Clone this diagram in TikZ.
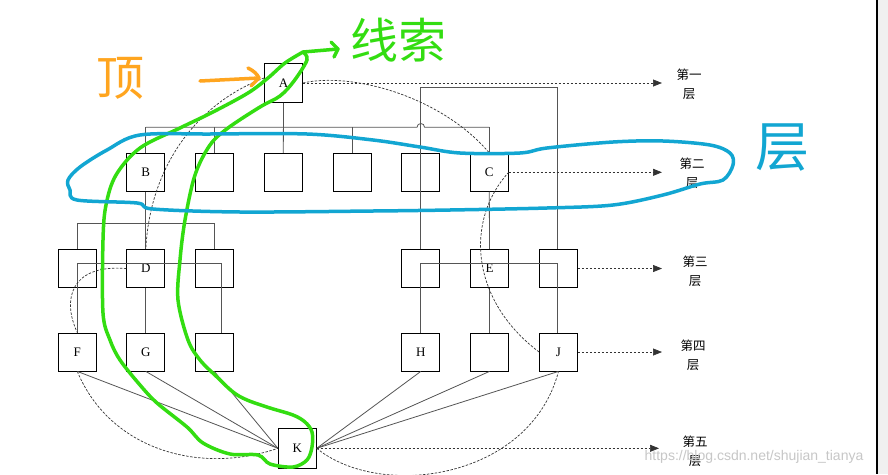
\documentclass[tikz,border=0pt]{standalone}
\usepackage{fontspec}
\setmainfont{Liberation Serif}
\newfontfamily\cjk{Noto Sans CJK SC}
\newfontfamily\wmfont{Liberation Sans}
\usetikzlibrary{arrows.meta}
\definecolor{hgreen}{HTML}{33DD11}
\definecolor{horange}{HTML}{FFA51F}
\definecolor{hblue}{HTML}{12A6D2}
\definecolor{conn}{HTML}{555555}
\definecolor{edgegray}{HTML}{F0F0F0}
\begin{document}
\begin{tikzpicture}[x=1pt,y=-1pt,
  box/.style={draw=black, line width=0.8pt, minimum width=38pt, minimum height=38pt, inner sep=0pt, font=\fontsize{13}{15}\selectfont},
  wire/.style={draw=conn, line width=0.8pt},
  dsh/.style={draw=black!80, line width=0.7pt, dash pattern=on 2.5pt off 1.5pt},
  layarrow/.style={dsh, -{Triangle[length=9pt,width=7pt]}},
  laylabel/.style={font=\cjk\fontsize{12.5}{19}\selectfont, align=center, inner sep=0pt},
  hand/.style={line width=3.5pt, line cap=round, line join=round},
  handtext/.style={font=\cjk\fontsize{48}{48}\selectfont, inner sep=0pt},
]
\useasboundingbox (0,0) rectangle (888,474);
\fill[white] (0,0) rectangle (888,474);
\fill[edgegray] (877,0) rectangle (888,474);
\draw[black, line width=1.4pt] (877,0) -- (877,474);

% boxes
\node[box, minimum height=39pt] (A) at (283.5,83) {A};
\node[box] (B)  at (145.8,172.3) {B};
\node[box] (n2) at (214.3,172.3) {};
\node[box] (n3) at (283.3,172.3) {};
\node[box] (n4) at (352.3,172.3) {};
\node[box] (n5) at (420.8,172.3) {};
\node[box] (C)  at (489.3,172.3) {C};
\node[box] (L3a) at (77.3,268.5) {};
\node[box] (D)   at (145.8,268.5) {D};
\node[box] (L3c) at (214.3,268.5) {};
\node[box] (L3d) at (420.8,268.5) {};
\node[box] (E)   at (489.5,268.5) {E};
\node[box] (L3f) at (558.5,268.5) {};
\node[box] (F)   at (77.3,352) {F};
\node[box] (G)   at (145.8,352) {G};
\node[box] (L4c) at (214.3,352) {};
\node[box] (H)   at (420.8,352) {H};
\node[box] (L4e) at (489.5,352) {};
\node[box] (J)   at (558.5,352) {J};
\node[box, minimum height=40pt] (K) at (297.3,448.3) {K};

% solid connectors
\coordinate (bus2) at (0,127.3);
\coordinate (bus3) at (0,223.3);
\coordinate (inner) at (0,263.7);
\coordinate (tl) at (420.8,87);
\coordinate (tr) at (557.5,87);
\draw[wire] (A.south) -- (n3.north);
\draw[wire] (B.north |- bus2) -- (417,127.3) .. controls (417,122.3) and (424.6,122.3) .. (424.6,127.3) -- (C.north |- bus2);
\draw[wire] (B.north) -- (B.north |- bus2);
\draw[wire] (n2.north) -- (n2.north |- bus2);
\draw[wire] (n4.north) -- (n4.north |- bus2);
\draw[wire] (C.north) -- (C.north |- bus2);
\draw[wire] (L3d.north) -- (tl) -- (tr) -- (tr |- L3f.north);
\draw[wire] (C.south) -- (E.north);
\draw[wire] (E.south) -- (L4e.north);
\draw[wire] (H.north) -- (H.north |- inner) -- ([xshift=-1pt]J.north |- inner) -- ([xshift=-1pt]J.north);
\draw[wire] (L3a.north) -- (L3a.north |- bus3) -- (L3c.north |- bus3) -- (L3c.north);
\draw[wire] (B.south) -- (D.north);
\draw[wire] (D.south) -- (G.north);
\draw[wire] (F.north) -- (F.north |- inner) -- ([xshift=6.7pt]L4c.north |- inner) -- ([xshift=6.7pt]L4c.north);
\foreach \n in {F,G,L4c} \draw[wire] (\n.south) -- (K.west);
\foreach \n in {H,L4e,J} \draw[wire] (\n.south) -- (K.east);

% dashed loop
\draw[dsh] ([yshift=5pt]A.west) .. controls (198,103) and (150,165) .. (D.north);
\draw[dsh] (D.west) .. controls (70,264) and (62,300) .. (F.north);
\draw[dsh] (F.south) .. controls (110,450) and (200,475) .. (K.west);
\draw[dsh] (K.east) .. controls (380,500) and (530,480) .. (J.south);
\draw[dsh] (J.west) .. controls (470,300) and (465,220) .. (C.east);
\draw[dsh] (A.east) .. controls (350,72) and (440,95) .. (C.north);

% layer arrows and labels
\coordinate (ar1) at (662,83);
\coordinate (ar2) at (662,172.3);
\coordinate (ar3) at (662,268.5);
\coordinate (ar4) at (662,352);
\coordinate (ar5) at (659,448.3);
\draw[layarrow] (A.east) -- (ar1);
\draw[layarrow] (C.east) -- (ar2);
\draw[layarrow] (L3f.east) -- (ar3);
\draw[layarrow] (J.east) -- (ar4);
\draw[layarrow] (K.east) -- (ar5);
\node[laylabel] (lab1) at (689,84.5) {第一\\层};
\node[laylabel] (lab2) at (692,173.5) {第二\\层};
\node[laylabel] (lab3) at (695,271) {第三\\层};
\node[laylabel] (lab4) at (693,355) {第四\\层};
\node[laylabel] (lab5) at (695,451) {第五\\层};

% watermark
\node[font=\wmfont\fontsize{14}{14}\selectfont, text=black!22, inner sep=0pt] (wm) at (754,457) {https://blog.csdn.net/shujian\_tianya};

% hand annotations
\node[handtext, text=horange] (ding) at (120,78) {顶};
\draw[hand, horange] (200,81) -- (259,78);
\draw[hand, horange] (248,68) .. controls (254,71) and (257,74) .. (259,78) -- (251,86);
\node[handtext, text=hgreen] (xs) at (398,40) {线索};
\coordinate (gtop) at (303,52);
\coordinate (garr) at (338,49);
\draw[hand, hgreen] (gtop) -- (garr);
\draw[hand, hgreen] (331,42) -- (garr) -- (334,57);
\draw[hand, hgreen] plot[smooth, tension=0.55] coordinates {
 (303,52) (285,63) (268,78) (248,93) (213,112) (180,128) (140,148) (116,175)
 (106,205) (103,240) (103,313) (110,340) (120,360) (140,385) (157,403) (187,427)
 (203,443) (230,454) (258,455) (270,464) (293,467) (307,460) (312,447) (312,432)
 (305,422) (293,415) (270,408) (247,400) (233,392) (217,377) (200,360) (188,340)
 (178,300) (180,260) (185,220) (195,175) (210,145) (228,128) (260,107) (280,96)
 (294,81) (307,60) (303,52)};
\draw[hand, hblue] plot[smooth cycle, tension=0.55] coordinates {
 (140,135) (210,134) (307,134) (373,140) (420,147) (460,153) (520,153) (547,148)
 (613,142) (663,141) (710,145) (730,153) (733,165) (723,180) (700,184) (663,195)
 (613,205) (547,208) (450,210) (373,211) (240,212) (153,209) (137,203) (77,200)
 (70,190) (68,180) (80,167) (107,150)};
\node[handtext, text=hblue, font=\cjk\fontsize{54}{54}\selectfont] (ceng) at (782,148) {层};
\end{tikzpicture}
\end{document}
